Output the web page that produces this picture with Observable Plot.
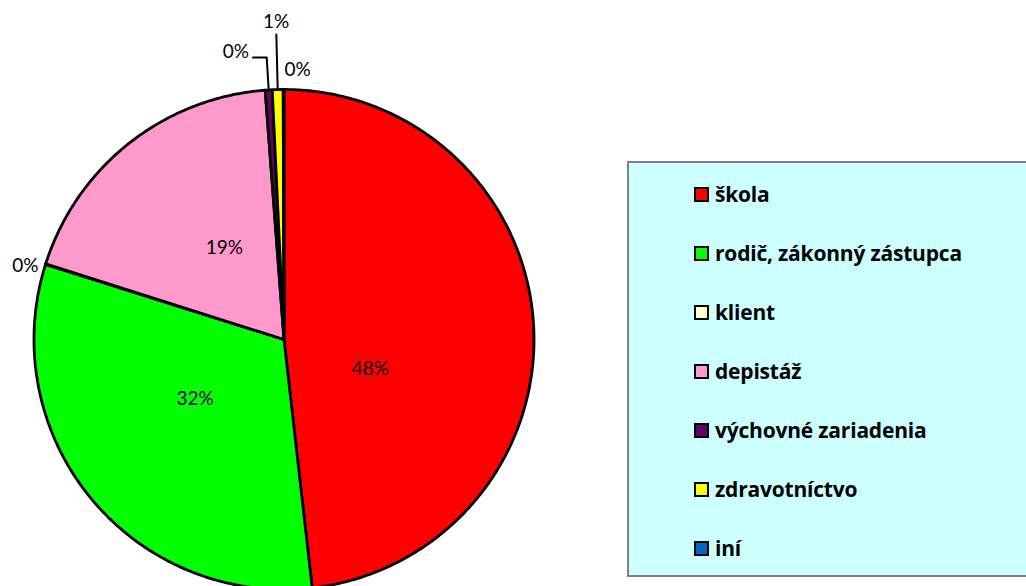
<!DOCTYPE html>
<html><head><meta charset="utf-8">
<script src="https://cdn.jsdelivr.net/npm/d3@7"></script>
<script src="https://cdn.jsdelivr.net/npm/@observablehq/plot@0.6"></script>
<style>
body{margin:0;overflow:hidden;background:#fff;font-family:Lato,"Open Sans",sans-serif;}
#wrap{position:relative;width:1026px;height:586px;overflow:hidden;}
#legend{position:absolute;left:627px;top:161px;width:420px;height:416px;background:#CCFFFF;border:2px solid #7f7f7f;box-sizing:border-box;}
.item{position:absolute;left:65px;display:flex;align-items:center;font-family:"Open Sans",sans-serif;font-weight:bold;font-size:21px;letter-spacing:-0.2px;color:#000;transform:translateY(-50%);white-space:nowrap;}
.sw{width:11px;height:11px;border:2px solid #000;margin-right:6px;}
</style></head><body><div id="wrap"><div id="chart"></div><div id="legend"></div></div>
<script>
const categories = ["škola","rodič, zákonný zástupca","klient","depistáž","výchovné zariadenia","zdravotníctvo","iní"];
const shares = [48.2, 31.65, 0.05, 18.9, 0.45, 0.7, 0.05];
const colors = ["#FF0000","#00FF00","#FFFFCC","#FF99CC","#660066","#FFFF00","#0066CC"];
const pctLabels = ["48%","32%","0%","19%","0%","1%","0%"];

const data = categories.map((c, i) => ({cat: c, share: shares[i], label: pctLabels[i]}));
const arcs = d3.pie().sort(null).value(d => d.share)(data);

// polygon vertices for each slice, in unit-circle data coordinates (y up)
const pts = [];
for (const a of arcs) {
  const cat = a.data.cat;
  pts.push({cat, x: 0, y: 0});
  const n = Math.max(2, Math.ceil((a.endAngle - a.startAngle) / 0.01));
  for (let k = 0; k <= n; k++) {
    const t = a.startAngle + (a.endAngle - a.startAngle) * k / n;
    pts.push({cat, x: Math.sin(t), y: Math.cos(t)});
  }
  pts.push({cat, x: 0, y: 0});
}
const mid = a => (a.startAngle + a.endAngle) / 2;
const polar = (a, r) => ({cat: a.data.cat, label: a.data.label, x: r * Math.sin(mid(a)), y: r * Math.cos(mid(a))});
const byCat = c => arcs.find(a => a.data.cat === c);

const inner = c => polar(byCat(c), 0.43);
const leaderV = [polar(byCat("výchovné zariadenia"), 1), polar(byCat("výchovné zariadenia"), 1.13)];
leaderV.push({x: leaderV[1].x - 0.055, y: leaderV[1].y});
const leaderZ = [polar(byCat("zdravotníctvo"), 1), polar(byCat("zdravotníctvo"), 1.22)];

const font = "Lato, 'Open Sans', sans-serif";
const fs = 19;
const chart = Plot.plot({
  width: 1026, height: 586, margin: 0,
  style: {background: "transparent", fontFamily: font},
  x: {domain: [-1, 1], range: [33.5, 533.5], axis: null},
  y: {domain: [-1, 1], range: [589, 89], axis: null},
  color: {domain: categories, range: colors},
  marks: [
    Plot.line(pts, {x: "x", y: "y", z: "cat", fill: "cat", stroke: "#000", strokeWidth: 2.8, strokeLinejoin: "round"}),
    Plot.text([inner("škola")], {x: "x", y: "y", text: "label", fontSize: fs, fill: "#000", dx: -21, dy: 35}),
    Plot.text([inner("rodič, zákonný zástupca")], {x: "x", y: "y", text: "label", fontSize: fs, fill: "#000", dx: -6, dy: -9}),
    Plot.text([inner("depistáž")], {x: "x", y: "y", text: "label", fontSize: fs, fill: "#000", dx: 7, dy: -7}),
    Plot.line(leaderV, {x: "x", y: "y", stroke: "#000", strokeWidth: 2}),
    Plot.line(leaderZ, {x: "x", y: "y", stroke: "#000", strokeWidth: 2}),
    Plot.text([polar(byCat("klient"), 1.03)], {x: "x", y: "y", text: "label", fontSize: fs, fill: "#000", textAnchor: "end", dx: 0, dy: 4}),
    Plot.text([{x: leaderV[2].x, y: leaderV[2].y, label: byCat("výchovné zariadenia").data.label}], {x: "x", y: "y", text: "label", fontSize: fs, fill: "#000", textAnchor: "end", dx: -4, dy: -6}),
    Plot.text([polar(byCat("zdravotníctvo"), 1.27)], {x: "x", y: "y", text: "label", fontSize: fs, fill: "#000"}),
    Plot.text([polar(byCat("iní"), 1.08)], {x: "x", y: "y", text: "label", fontSize: fs, fill: "#000", dx: 14})
  ]
});
document.getElementById("chart").appendChild(chart);

const legend = document.getElementById("legend");
categories.forEach((c, i) => {
  const it = document.createElement("div");
  it.className = "item";
  it.style.top = (31 + i * 59) + "px";
  const sw = document.createElement("div");
  sw.className = "sw";
  sw.style.background = colors[i];
  const tx = document.createElement("span");
  tx.textContent = c;
  it.appendChild(sw); it.appendChild(tx);
  legend.appendChild(it);
});
</script></body></html>
